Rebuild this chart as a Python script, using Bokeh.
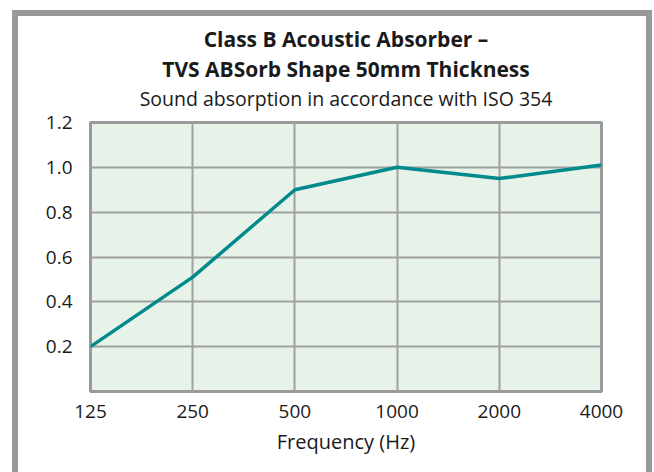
from bokeh.plotting import figure
from bokeh.models import Title, FixedTicker, Range1d
from bokeh.embed import file_html
from bokeh.resources import INLINE

freq_labels = ["125", "250", "500", "1000", "2000", "4000"]
absorption = [0.20, 0.51, 0.90, 1.00, 0.95, 1.01]
y_ticks = [0.2, 0.4, 0.6, 0.8, 1.0, 1.2]

title_line1 = "Class B Acoustic Absorber \u2013"
title_line2 = "TVS ABSorb Shape 50mm Thickness"
subtitle = "Sound absorption in accordance with ISO 354"
x_label = "Frequency (Hz)"

FONT = "Open Sans"
xs = list(range(len(freq_labels)))

p = figure(width=654, height=472, output_backend="svg", toolbar_location=None,
           title=None, x_range=Range1d(0, len(freq_labels) - 1), y_range=Range1d(0, 1.2),
           min_border_left=90, min_border_right=53, min_border_bottom=81, min_border_top=122)

# outer grey frame drawn behind the (transparent) canvas border area
p.styles = {
    "background-image": "linear-gradient(#999999,#999999), linear-gradient(#999999,#999999), linear-gradient(#999999,#999999)",
    "background-size": "6px 100%, 640px 6px, 6px 100%",
    "background-position": "12px 10px, 12px 10px, 646px 10px",
    "background-repeat": "no-repeat",
}

# spacer between subtitle and plot frame
p.add_layout(Title(text=" ", text_font_size="1px", standoff=8), "above")
p.add_layout(Title(text=subtitle, align="center", text_font=FONT, text_font_size="19.5px",
                   text_font_style="normal", text_color="#1a1a1a", standoff=0), "above")
for line in (title_line2, title_line1):
    p.add_layout(Title(text=line, align="center", text_font=FONT,
                       text_font_size="21px", text_font_style="bold", text_color="#1a1a1a",
                       standoff=0), "above")

p.background_fill_color = "#e7f2e9"
p.border_fill_color = None
p.outline_line_color = "#9a9a9a"
p.outline_line_width = 3

p.xgrid.grid_line_color = "#a0a0a0"
p.ygrid.grid_line_color = "#a0a0a0"
p.xgrid.grid_line_width = 2
p.ygrid.grid_line_width = 2

p.xaxis.ticker = FixedTicker(ticks=xs)
p.xaxis.major_label_overrides = {i: l for i, l in enumerate(freq_labels)}
p.yaxis.ticker = FixedTicker(ticks=y_ticks)
p.yaxis.major_label_overrides = {v: f"{v:.1f}" for v in y_ticks}

for ax in (p.xaxis[0], p.yaxis[0]):
    ax.axis_line_color = None
    ax.major_tick_line_color = None
    ax.minor_tick_line_color = None
    ax.major_label_text_font = FONT
    ax.major_label_text_font_size = "19px"
    ax.major_label_text_color = "#1a1a1a"
p.yaxis.major_label_standoff = 12
p.xaxis.major_label_standoff = 7
p.xaxis.axis_label = x_label
p.xaxis.axis_label_text_font = FONT
p.xaxis.axis_label_text_font_size = "20px"
p.xaxis.axis_label_text_font_style = "normal"
p.xaxis.axis_label_text_color = "#1a1a1a"
p.xaxis.axis_label_standoff = 7

p.line(xs, absorption, line_color="#008a8c", line_width=3.5)

open("out.html", "w").write(file_html(p, INLINE))
